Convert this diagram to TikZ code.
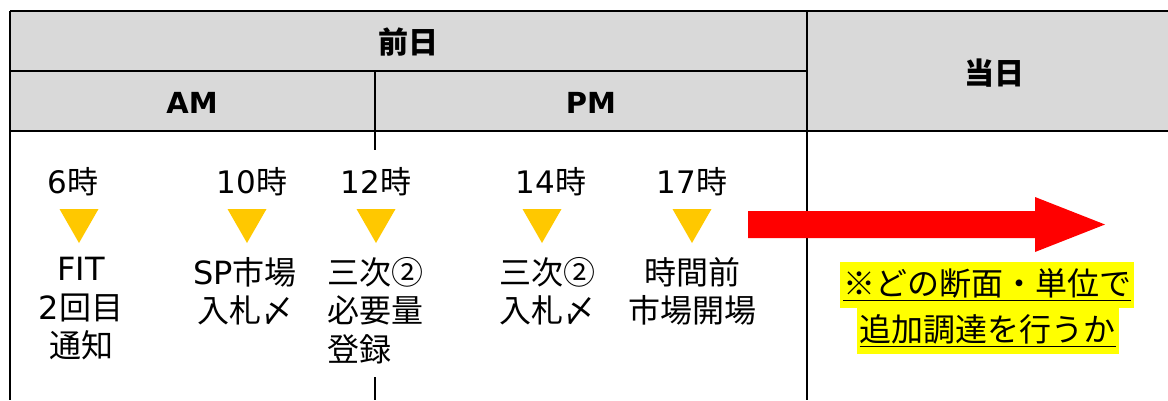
\documentclass[tikz,border=0pt]{standalone}
\usepackage{fontspec}
\setmainfont{Noto Sans CJK JP}
\newfontfamily\lat{DejaVu Sans}
\definecolor{hdrgray}{HTML}{D9D9D9}
\definecolor{tri}{HTML}{FFC800}
\definecolor{hl}{HTML}{FFFF00}
\definecolor{arrowred}{HTML}{FF0000}
\tikzset{
  grid/.style={line width=2pt, draw=black},
  hdr/.style={font=\fontsize{30}{34}\selectfont\bfseries, inner sep=0pt},
  hdrlat/.style={font=\fontsize{29}{34}\selectfont\bfseries, inner sep=0pt},
  timelbl/.style={font=\fontsize{31}{36}\selectfont, inner sep=0pt, anchor=center},
  body/.style={font=\fontsize{32}{38.5}\selectfont, inner sep=0pt, anchor=north},
  tristyle/.style={fill=tri},
  hlbox/.style={fill=hl, font=\fontsize{32}{36}\selectfont, inner xsep=3pt, inner ysep=0pt, minimum height=46pt}
}
\begin{document}
\begin{tikzpicture}[x=1pt,y=-1pt]
\useasboundingbox (0,0) rectangle (1168,400);
% header fills
\fill[hdrgray] (10,11) rectangle (1200,131);
% grid lines
\draw[grid] (10,11) -- (1200,11);
\draw[grid] (10,71) -- (807,71);
\draw[grid] (10,131) -- (1200,131);
\draw[grid] (10,11) -- (10,400);
\draw[grid] (807,11) -- (807,400);
\draw[grid] (375,71) -- (375,150);
\draw[grid] (375,377) -- (375,400);
% header texts
\node[hdr] (zenjitsu) at (408,42) {前日};
\node[hdr] (toujitsu) at (994,73) {当日};
\node[hdrlat] (am) at (192,103) {\lat AM};
\node[hdrlat] (pm) at (591,103) {\lat PM};
% time labels
\node[timelbl] (t6) at (73,182) {{\lat 6}時};
\node[timelbl] (t10) at (252,182) {{\lat 10}時};
\node[timelbl] (t12) at (376,182) {{\lat 12}時};
\node[timelbl] (t14) at (551,182) {{\lat 14}時};
\node[timelbl] (t17) at (692,182) {{\lat 17}時};
% triangles
\foreach \cx in {79,247,376,542,692}{
  \fill[tristyle] (\cx-19.5,209) -- (\cx+19.5,209) -- (\cx,243) -- cycle;
}
% body texts
\node[body, align=center] (b6) at (81,257) {{\lat FIT}\\{\lat 2}回目\\通知};
\node[body, align=center] (b10) at (245,257) {{\lat SP}市場\\入札〆};
\node[body, align=left] (b12) at (375,257) {三次②\\必要量\\登録};
\node[body, align=center] (b14) at (547,257) {三次②\\入札〆};
\node[body, align=center] (b17) at (692,257) {時間前\\市場開場};
% red arrow
\fill[arrowred] (748,211) -- (1035,211) -- (1035,197) -- (1105,224.5) -- (1035,252) -- (1035,238) -- (748,238) -- cycle;
% highlighted note
\node[hlbox] (note1) at (987,284.5) {\underline{※どの断面・単位で}};
\node[hlbox] (note2) at (987.5,330.5) {\underline{追加調達を行うか}};
\end{tikzpicture}
\end{document}
